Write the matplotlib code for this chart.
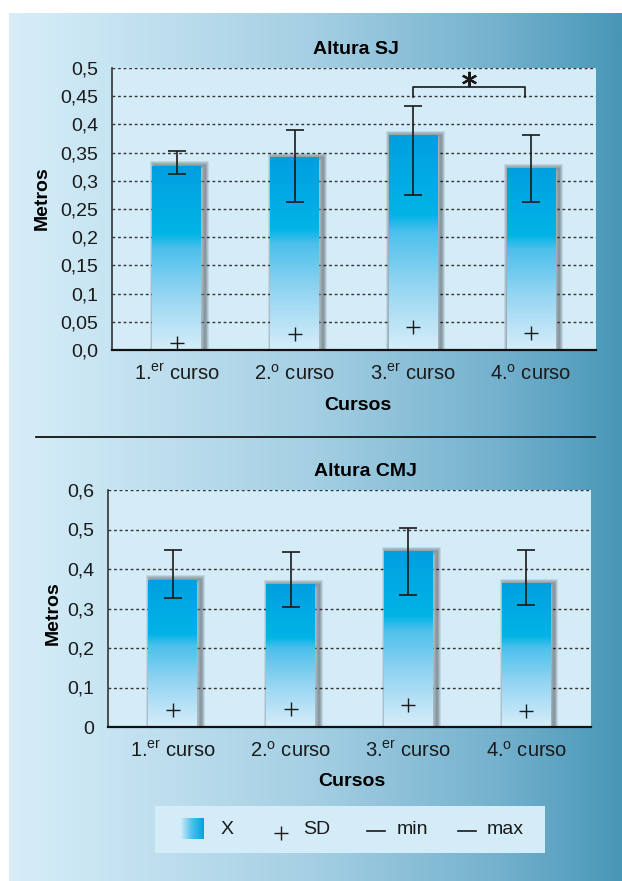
import numpy as np
import matplotlib
matplotlib.use("Agg")
import matplotlib.pyplot as plt
from matplotlib.colors import LinearSegmentedColormap
from matplotlib import patheffects as pe

# ---- data ----
cursos = ["1.$^{\\mathregular{er}}$ curso", "2.$^{\\mathregular{o}}$ curso",
          "3.$^{\\mathregular{er}}$ curso", "4.$^{\\mathregular{o}}$ curso"]

sj_mean = [0.327, 0.342, 0.381, 0.323]
sj_max = [0.352, 0.390, 0.433, 0.381]
sj_min = [0.312, 0.262, 0.275, 0.262]
sj_sd = [0.012, 0.028, 0.040, 0.030]
sj_ticks = [0, 0.05, 0.1, 0.15, 0.2, 0.25, 0.3, 0.35, 0.4, 0.45, 0.5]
sj_ticklabels = ["0,0", "0,05", "0,1", "0,15", "0,2", "0,25", "0,3", "0,35", "0,4", "0,45", "0,5"]

cmj_mean = [0.373, 0.361, 0.446, 0.365]
cmj_max = [0.449, 0.443, 0.505, 0.447]
cmj_min = [0.327, 0.305, 0.333, 0.310]
cmj_sd = [0.042, 0.045, 0.055, 0.040]
cmj_ticks = [0, 0.1, 0.2, 0.3, 0.4, 0.5, 0.6]
cmj_ticklabels = ["0", "0,1", "0,2", "0,3", "0,4", "0,5", "0,6"]

W, H = 622, 881
plt.rcParams['font.family'] = ['Liberation Sans', 'DejaVu Sans']
BOLD = ['Liberation Sans', 'DejaVu Sans']
INK = "#1a1a1a"

fig = plt.figure(figsize=(W / 100, H / 100), dpi=100)
fig.patch.set_facecolor("white")

def fx(px):
    return px / W

def fy(py):
    return 1 - py / H

# background panel
bg_cmap = LinearSegmentedColormap.from_list(
    "bg", [(0, "#d7eef9"), (0.5, "#a4cfe3"), (0.8, "#74b1cd"), (1, "#4897b7")])
bgax = fig.add_axes([fx(9), 0, 1 - fx(9), fy(13)], zorder=-5)
bgax.imshow(np.linspace(0, 1, 256).reshape(1, -1), cmap=bg_cmap, aspect="auto",
            extent=[0, 1, 0, 1])
bgax.set_axis_off()

bar_cmap = LinearSegmentedColormap.from_list(
    "bar", [(0, "#d6edf9"), (0.3, "#95d5f2"), (0.55, "#4cc0ec"),
            (0.63, "#00b4e6"), (1, "#009fe0")])
grad = np.linspace(0, 1, 256).reshape(-1, 1)
plot_bg = "#d4ebf8"


def draw_chart(rect, mean, vmin, vmax, sd, ticks, ticklabels, ylim):
    ax = fig.add_axes(rect)
    ax.set_facecolor(plot_bg)
    x = np.arange(len(mean))
    bars = ax.bar(x, mean, width=0.415, color="#d6edf9", zorder=2)
    # soft drop shadow, mostly to the right
    shadow = [pe.Stroke(linewidth=lw, foreground="black", alpha=0.1, offset=(2, -0.5))
              for lw in (7, 5.5, 4, 2.5)] + [pe.Normal()]
    for b in bars:
        b.set_path_effects(shadow)
        x0 = b.get_x()
        im = ax.imshow(grad, cmap=bar_cmap, origin="lower", aspect="auto",
                       extent=[x0, x0 + b.get_width(), 0, b.get_height()], zorder=3)
        im.set_clip_path(b)
    mean_a = np.array(mean)
    yerr = [mean_a - np.array(vmin), np.array(vmax) - mean_a]
    ax.errorbar(x, mean, yerr=yerr, fmt="none", ecolor=INK, elinewidth=1.2,
                capsize=6.5, capthick=1.2, zorder=5)
    ax.plot(x, sd, "+", color=INK, markersize=10, mew=1.0, zorder=5)
    ax.set_xlim(-0.55, 3.55)
    ax.set_ylim(*ylim)
    ax.set_yticks(ticks)
    ax.set_yticklabels(ticklabels)
    ax.set_xticks(x)
    ax.set_xticklabels(cursos)
    ax.tick_params(axis="both", length=0, colors=INK)
    ax.tick_params(axis="x", pad=10, labelsize=14.5)
    ax.tick_params(axis="y", pad=10, labelsize=14)
    ax.yaxis.grid(True, linestyle=(0, (2, 2)), color="#333333", linewidth=1.0, zorder=1)
    ax.set_axisbelow(True)
    for s in ("top", "right"):
        ax.spines[s].set_visible(False)
    ax.spines["left"].set_color("#333333")
    ax.spines["left"].set_linewidth(1.2)
    ax.spines["bottom"].set_color("#111111")
    ax.spines["bottom"].set_linewidth(1.6)
    ax.spines["bottom"].set_zorder(6)
    return ax


ax1 = draw_chart([fx(112), fy(350), fx(596) - fx(112), fy(68) - fy(350)],
                 sj_mean, sj_min, sj_max, sj_sd, sj_ticks, sj_ticklabels, (0, 0.5))
ax2 = draw_chart([fx(108), fy(727), fx(591) - fx(108), fy(490) - fy(727)],
                 cmj_mean, cmj_min, cmj_max, cmj_sd, cmj_ticks, cmj_ticklabels, (0, 0.6))

# significance bracket between 3.er and 4.o curso
ax1.plot([2, 2, 2.95, 2.95], [0.449, 0.467, 0.467, 0.449], color=INK, lw=1.2,
         zorder=6, clip_on=False)
ax1.plot([2.47], [0.481], marker=(6, 2, 0), color=INK, markersize=11, mew=1.6,
         clip_on=False, zorder=6)

# titles and axis labels
fig.text(fx(356), fy(49), "Altura SJ", ha="center", va="center", fontsize=14,
         fontweight="bold", family=BOLD)
fig.text(fx(365), fy(472), "Altura CMJ", ha="center", va="center", fontsize=14,
         fontweight="bold", family=BOLD)
fig.text(fx(42), fy(198), "Metros", ha="center", va="center", rotation=90,
         fontsize=14, fontweight="bold", family=BOLD)
fig.text(fx(53), fy(613), "Metros", ha="center", va="center", rotation=90,
         fontsize=14, fontweight="bold", family=BOLD)
fig.text(fx(358), fy(406), "Cursos", ha="center", va="center", fontsize=14,
         fontweight="bold", family=BOLD)
fig.text(fx(352), fy(782), "Cursos", ha="center", va="center", fontsize=14,
         fontweight="bold", family=BOLD)

# separator line
fig.add_artist(plt.Line2D([fx(36), fx(595)], [fy(437.5), fy(437.5)], color="#111111", lw=1.3))

# legend box
lax = fig.add_axes([fx(155), fy(853), fx(545) - fx(155), fy(806) - fy(853)])
lax.set_facecolor(plot_bg)
lax.set_xticks([])
lax.set_yticks([])
for s in lax.spines.values():
    s.set_visible(False)
leg_cmap = LinearSegmentedColormap.from_list("leg", ["#d6edf9", "#4cc0ec", "#00a3e0"])
lax.imshow(np.linspace(0, 1, 64).reshape(1, -1), cmap=leg_cmap, aspect="auto",
           extent=[180, 204, 839, 818])
lax.text(221, 829, "X", ha="left", va="center", fontsize=14, color=INK)
lax.plot([281], [833], "+", color=INK, markersize=10, mew=1.0)
lax.text(303, 829, "SD", ha="left", va="center", fontsize=14, color=INK)
lax.plot([367, 385], [831, 831], color=INK, lw=1.2)
lax.text(397, 829, "min", ha="left", va="center", fontsize=14, color=INK)
lax.plot([458, 476], [831, 831], color=INK, lw=1.2)
lax.text(487, 829, "max", ha="left", va="center", fontsize=14, color=INK)
lax.set_xlim(155, 545)
lax.set_ylim(853, 806)

fig.savefig("out.png", dpi=100)
